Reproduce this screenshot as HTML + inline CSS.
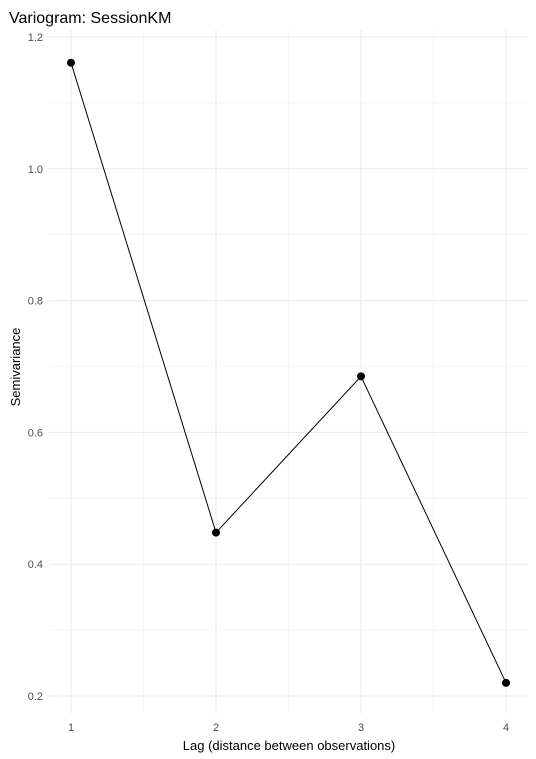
<!DOCTYPE html>
<html><head><meta charset="utf-8"><style>
body{margin:0;background:#fff;}
svg{display:block;font-family:"Liberation Sans",sans-serif;}
</style></head><body>
<svg width="536" height="759">
<g id="grid"></g>
<g id="marks"></g>
<g id="axes"></g>
<text x="9" y="23" font-size="16" fill="#000">Variogram: SessionKM</text>
<text x="289" y="750" font-size="13" text-anchor="middle" fill="#000">Lag (distance between observations)</text>
<text transform="translate(20,367) rotate(-90)" font-size="13" text-anchor="middle" fill="#000">Semivariance</text>
</svg>
<script>
const lags=[1,2,3,4];
const semivariance=[1.161,0.448,0.685,0.220];
const xTicks=[1,2,3,4];
const yTicks=[0.2,0.4,0.6,0.8,1.0,1.2];
const yTickLabels=["0.2","0.4","0.6","0.8","1.0","1.2"];
const L=49,R=528,T=30,B=713;
function sx(v){return 71+(v-1)*145;}
function sy(v){return 696-(v-0.2)*659;}
const NS="http://www.w3.org/2000/svg";
function mk(tag,attrs,parent){const e=document.createElementNS(NS,tag);for(const k in attrs)e.setAttribute(k,attrs[k]);parent.appendChild(e);return e;}
const grid=document.getElementById('grid'),marks=document.getElementById('marks'),axes=document.getElementById('axes');
// minor grid
for(let i=0;i<xTicks.length-1;i++){const x=sx((xTicks[i]+xTicks[i+1])/2);
const l=mk('line',{x1:x,x2:x,y1:T,y2:B,stroke:'#f2f2f2','stroke-width':0.6},grid);
}
for(let i=0;i<yTicks.length;i++){const y=sy(yTicks[i]+0.1);if(y<T)continue;
const l=mk('line',{x1:L,x2:R,y1:y,y2:y,stroke:'#f2f2f2','stroke-width':0.6},grid);
}
xTicks.forEach(v=>{const x=sx(v);
const l=mk('line',{x1:x,x2:x,y1:T,y2:B,stroke:'#ebebeb','stroke-width':1.1},grid);

const t=mk('text',{x:x,y:731,'font-size':11,'text-anchor':'middle',fill:'#4d4d4d'},axes);t.textContent=v;
});
yTicks.forEach((v,i)=>{const y=sy(v);
const l=mk('line',{x1:L,x2:R,y1:y,y2:y,stroke:'#ebebeb','stroke-width':1.1},grid);

const t=mk('text',{x:43,y:y+4,'font-size':11,'text-anchor':'end',fill:'#4d4d4d'},axes);t.textContent=yTickLabels[i];
});
const pts=lags.map((v,i)=>sx(v)+','+sy(semivariance[i])).join(' ');
const pl=mk('polyline',{points:pts,fill:'none',stroke:'#000','stroke-width':1},marks);

lags.forEach((v,i)=>{const c=mk('circle',{cx:sx(v),cy:sy(semivariance[i]),r:4,fill:'#000'},marks);
});
</script>
</body></html>
